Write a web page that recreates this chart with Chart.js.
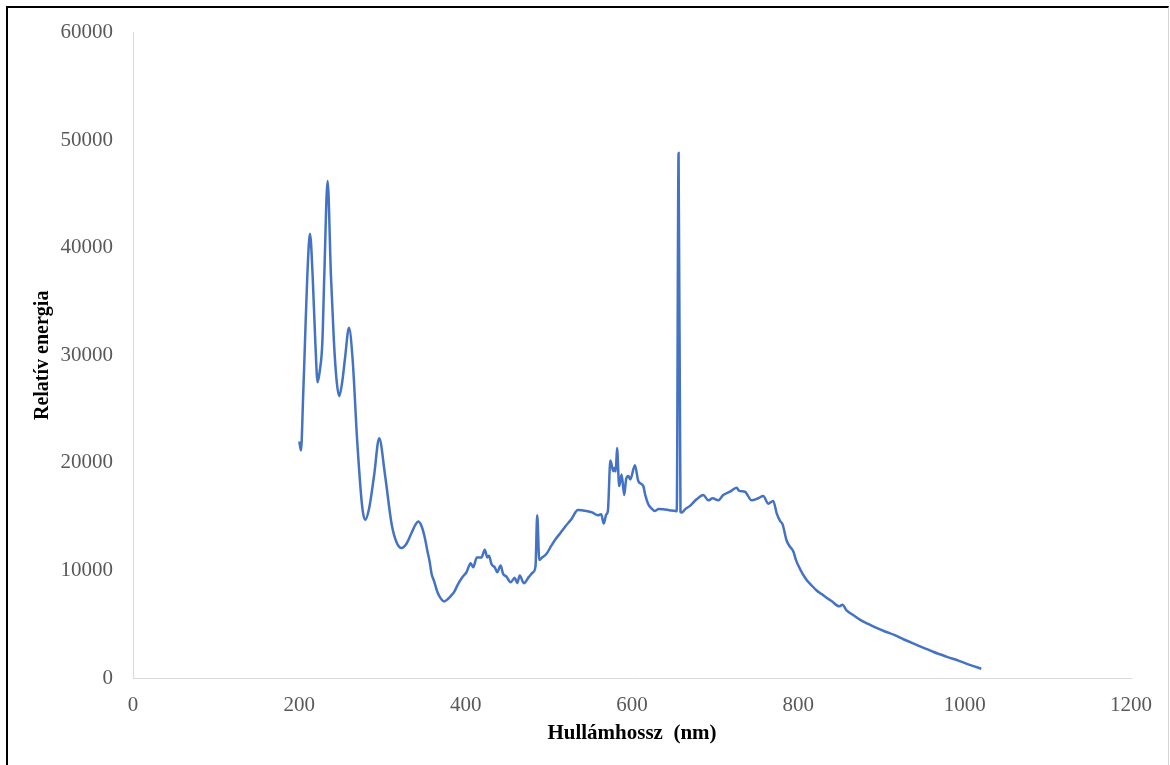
<!DOCTYPE html>
<html lang="hu">
<head>
<meta charset="utf-8">
<title>Relatív energia</title>
<script src="https://cdn.jsdelivr.net/npm/chart.js@4.4.1/dist/chart.umd.min.js"></script>
<style>
    html, body { margin: 0; padding: 0; background: #fff; overflow: hidden; }
    #wrap { position: relative; width: 1170px; height: 765px; }
    #frame {
        position: absolute; left: 6px; top: 6px; width: 1160px; height: 800px;
        border-top: 2px solid #000; border-left: 2px solid #000; border-right: 1px solid #d4d4d4;
        pointer-events: none;
    }
    canvas { position: absolute; left: 0; top: 0; }
</style>
</head>
<body>
<div id="wrap">
    <canvas id="spectrumChart" width="1170" height="765"></canvas>
    <div id="frame"></div>
</div>
<script>
// wavelength (nm) and relative energy
const wavelengths = [
    200, 202, 204.5, 206.8, 209.6, 212.8, 216, 219.2, 222, 224.5,
    227.7, 230, 234, 238, 241.6, 245, 248, 251.5, 254.9, 259.7,
    264, 269.6, 275.7, 279.3, 284, 290, 296, 303, 311, 317,
    323, 329, 335, 340, 343, 347, 351, 354, 356.5, 359,
    362, 366, 370, 374, 379, 383, 386, 391, 396, 401,
    406, 409, 413.5, 419, 423, 426, 428, 431, 435, 438,
    442, 445, 449, 454, 459, 462, 465, 470, 476, 481,
    484, 486, 488.5, 492, 497, 503, 508, 513, 520, 527,
    535, 545, 552, 559, 563, 566, 569, 571, 574, 577.5,
    579, 580.5, 582, 584.6, 587.5, 590.6, 593, 595.6, 598, 603.5,
    607.6, 613.6, 616, 619.6, 623, 627.6, 632, 637.6, 645, 652,
    653.8, 656, 658.3, 659.7, 664, 669.7, 677.7, 685.7, 691.7, 697,
    703.7, 709.7, 717.8, 725.8, 729, 735.8, 743.8, 751.8, 757.8, 763.8,
    769.8, 774, 778, 781, 786, 790, 794, 797, 800, 805,
    810, 816, 822, 828, 834, 840, 849, 853, 858, 866,
    874, 884, 894, 905, 916, 927, 938, 950, 962, 978,
    994, 1007, 1020
];
const energies = [
    22000, 21150, 26000, 31250, 37400, 41300, 37400, 31250, 27500, 28500,
    31250, 37400, 46200, 37400, 31250, 27500, 26200, 27500, 29700, 32550,
    29700, 22000, 15840, 14700, 15800, 18900, 22300, 18900, 14300, 12600,
    12080, 12500, 13500, 14300, 14540, 14100, 13000, 11800, 10900, 9700,
    9000, 8000, 7400, 7120, 7370, 7700, 7980, 8750, 9370, 9830,
    10660, 10290, 11210, 11210, 11930, 11210, 11370, 10600, 10290, 9830,
    10450, 9680, 9430, 8900, 9310, 8820, 9530, 8820, 9400, 9830,
    10400, 15130, 10970, 11200, 11520, 12300, 12900, 13380, 14100, 14760,
    15620, 15530, 15400, 15130, 15220, 14360, 15200, 15530, 20220, 19230,
    19540, 19200, 21380, 17840, 18930, 17010, 18500, 18770, 18460, 19780,
    18300, 17840, 17000, 16150, 15800, 15530, 15700, 15690, 15600, 15530,
    15500, 48800, 15450, 15380, 15700, 16000, 16610, 17010, 16520, 16700,
    16520, 17010, 17320, 17690, 17400, 17320, 16520, 16710, 16920, 16210,
    16460, 15300, 14600, 14300, 12760, 12200, 11770, 11000, 10450, 9700,
    9120, 8600, 8140, 7800, 7460, 7150, 6660, 6800, 6290, 5850,
    5430, 5030, 4650, 4300, 3980, 3580, 3210, 2830, 2440, 1990,
    1570, 1200, 860
];

const xTicks = [0, 200, 400, 600, 800, 1000, 1200];
const yTicks = [0, 10000, 20000, 30000, 40000, 50000, 60000];

const serif = "'Liberation Serif', 'Times New Roman', serif";
const tickFont = { family: serif, size: 21 };
const tickColor = "#595959";
const axisColor = "#d9d9d9";

const points = wavelengths.map((x, i) => ({ x: x, y: energies[i] }));

new Chart(document.getElementById("spectrumChart").getContext("2d"), {
    type: "line",
    data: {
        datasets: [{
            label: "Relatív energia",
            data: points,
            borderColor: "#4472c4",
            borderWidth: 2.5,
            pointRadius: 0,
            fill: false,
            cubicInterpolationMode: "monotone"
        }]
    },
    options: {
        responsive: false,
        animation: false,
        layout: { padding: { top: 29, right: 39, bottom: 0, left: 0 } },
        plugins: { legend: { display: false }, tooltip: { enabled: false } },
        scales: {
            x: {
                type: "linear",
                min: xTicks[0],
                max: xTicks[xTicks.length - 1],
                afterBuildTicks: s => { s.ticks = xTicks.map(v => ({ value: v })); },
                afterFit: s => { s.height = 87; },
                grid: { display: false, drawTicks: false },
                border: { display: true, color: axisColor, width: 1 },
                ticks: { font: tickFont, color: tickColor, padding: 15, maxRotation: 0, callback: v => String(v) },
                title: {
                    display: true,
                    text: "Hullámhossz  (nm)",
                    color: "#000",
                    font: { family: serif, size: 21, weight: "bold" },
                    padding: { top: 0, bottom: 19 }
                }
            },
            y: {
                min: yTicks[0],
                max: yTicks[yTicks.length - 1],
                afterBuildTicks: s => { s.ticks = yTicks.map(v => ({ value: v })); },
                afterFit: s => { s.width = 133; },
                grid: { display: false, drawTicks: false },
                border: { display: true, color: axisColor, width: 1 },
                ticks: { font: tickFont, color: tickColor, padding: 20, callback: v => String(v) },
                title: {
                    display: true,
                    text: "Relatív energia",
                    color: "#000",
                    font: { family: serif, size: 20, weight: "bold" },
                    padding: { top: 31, bottom: 0 }
                }
            }
        }
    }
});
</script>
</body>
</html>
